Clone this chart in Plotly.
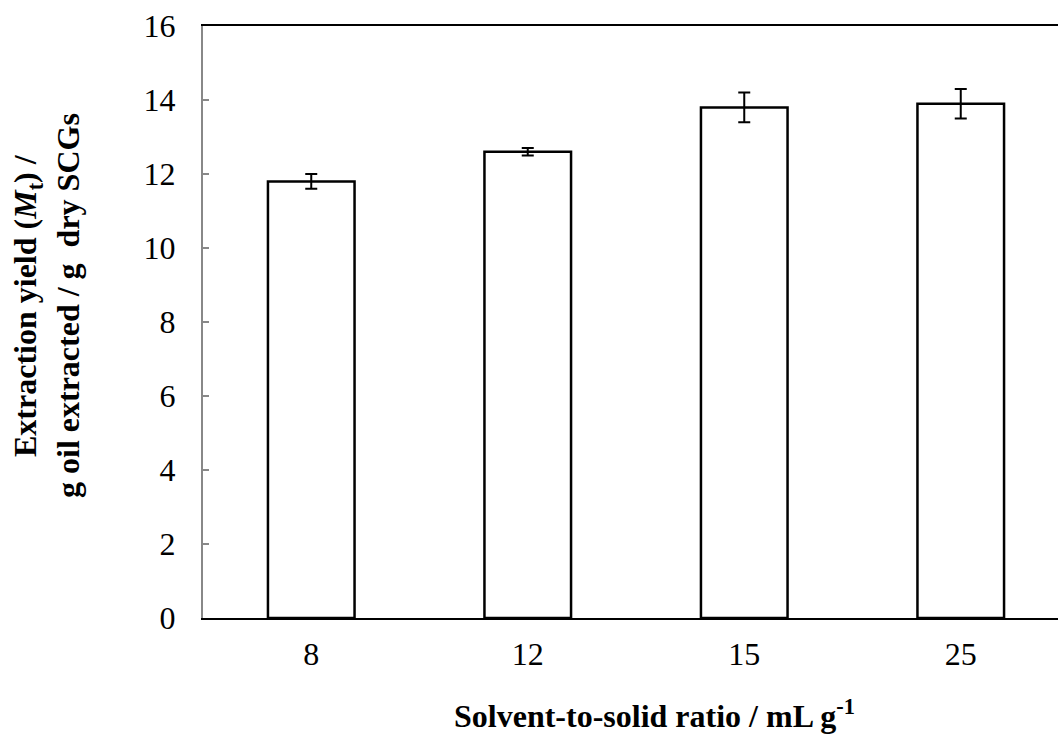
import plotly.graph_objects as go

categories = ["8", "12", "15", "25"]
yield_values = [11.8, 12.6, 13.8, 13.9]
yield_errors = [0.2, 0.1, 0.4, 0.4]
y_ticks = [0, 2, 4, 6, 8, 10, 12, 14, 16]

W, H = 1058, 738
L, T, B = 203, 26, 120
cat_px = 216.5
plot_w = W - L
plot_h = H - T - B
x_hi = -0.5 + plot_w / cat_px

FONT = "Liberation Serif, Times New Roman, serif"
FS = 32

fig = go.Figure()
fig.add_trace(go.Bar(
    x=list(range(len(categories))),
    y=yield_values,
    width=0.4,
    marker=dict(color="white", line=dict(color="black", width=2.5)),
    error_y=dict(type="data", array=yield_errors, visible=True,
                 color="black", thickness=2, width=6),
    showlegend=False,
))

fig.update_layout(
    width=W, height=H,
    margin=dict(l=L, r=0, t=T, b=B, pad=0),
    paper_bgcolor="white", plot_bgcolor="white",
    font=dict(family=FONT, size=FS, color="black"),
    xaxis=dict(
        range=[-0.5, x_hi],
        tickmode="array",
        tickvals=list(range(len(categories))),
        ticktext=categories,
        showline=True, linecolor="black", linewidth=2, mirror=True,
        showgrid=False, zeroline=False, ticks="",
        ticklabelstandoff=7,
        tickfont=dict(size=FS, family=FONT),
    ),
    yaxis=dict(
        range=[0, 16],
        tickvals=y_ticks,
        showline=True, linecolor="#888888", linewidth=2,
        showgrid=False, zeroline=False,
        ticks="inside", ticklen=6, tickcolor="#888888", tickwidth=1.5,
        ticklabelstandoff=19,
        tickfont=dict(size=FS, family=FONT),
    ),
)

ymid = (H - B - 306) / plot_h
fig.add_annotation(
    text="<b>Extraction yield (<i>M</i><sub>t</sub>) /</b>",
    xref="paper", yref="paper",
    x=(27 - L) / plot_w, y=ymid,
    xanchor="center", yanchor="middle", textangle=-90, showarrow=False,
    font=dict(family=FONT, size=FS, color="black"),
)
fig.add_annotation(
    text="<b>g oil extracted / g  dry SCGs</b>",
    xref="paper", yref="paper",
    x=(68 - L) / plot_w, y=ymid,
    xanchor="center", yanchor="middle", textangle=-90, showarrow=False,
    font=dict(family=FONT, size=FS, color="black"),
)
fig.add_annotation(
    text="<b>Solvent-to-solid ratio / mL g<sup>-1</sup></b>",
    xref="paper", yref="paper",
    x=(654 - L) / plot_w, y=-(714 - (H - B)) / plot_h,
    xanchor="center", yanchor="middle", showarrow=False,
    font=dict(family=FONT, size=FS, color="black"),
)

fig.write_html("out.html")
